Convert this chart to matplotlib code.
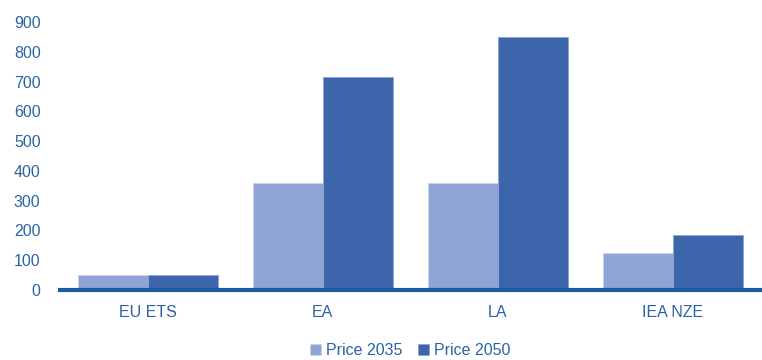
import matplotlib
matplotlib.use("Agg")
import matplotlib.pyplot as plt
import numpy as np

categories = ["EU ETS", "EA", "LA", "IEA NZE"]
price_2035 = [50, 358, 358, 125]
price_2050 = [50, 714, 849, 185]
series_labels = ["Price 2035", "Price 2050"]
yticks = [0, 100, 200, 300, 400, 500, 600, 700, 800, 900]

c35 = "#8FA4D4"
c50 = "#3C65AC"
txt = "#2A63A5"
base = "#1A5C9E"

plt.rcParams['font.family'] = ['Liberation Sans', 'DejaVu Sans']

fig = plt.figure(figsize=(7.62, 3.6), dpi=100)
ax = fig.add_axes([60/762, 70/360, 700/762, 268/360])

x = np.arange(len(categories))
w = 0.4
ax.bar(x - w/2, price_2035, w, color=c35, edgecolor="#C9D3EC", linewidth=0.6, label=series_labels[0], zorder=2)
ax.bar(x + w/2, price_2050, w, color=c50, edgecolor="#8FA4D4", linewidth=0.6, label=series_labels[1], zorder=2)

ax.set_xlim(-0.5, len(categories) - 0.5)
ax.set_ylim(0, 900)
ax.set_yticks(yticks)
ax.set_xticks(x)
ax.set_xticklabels(categories)
for s in ["top", "right", "left"]:
    ax.spines[s].set_visible(False)
ax.spines["bottom"].set_color(base)
ax.spines["bottom"].set_linewidth(3)
ax.spines["bottom"].set_zorder(3)
ax.tick_params(axis="y", length=0, pad=14, labelsize=11.5, labelcolor=txt)
ax.tick_params(axis="x", length=0, pad=11, labelsize=11.5, labelcolor=txt)

leg = ax.legend(loc="center", bbox_to_anchor=(0.5, -0.225), ncol=2, frameon=False,
                fontsize=11.5, handlelength=0.7, handleheight=0.7, handletextpad=0.3,
                columnspacing=1.0, labelcolor=txt, borderpad=0.1)

fig.savefig("out.png", dpi=100)
